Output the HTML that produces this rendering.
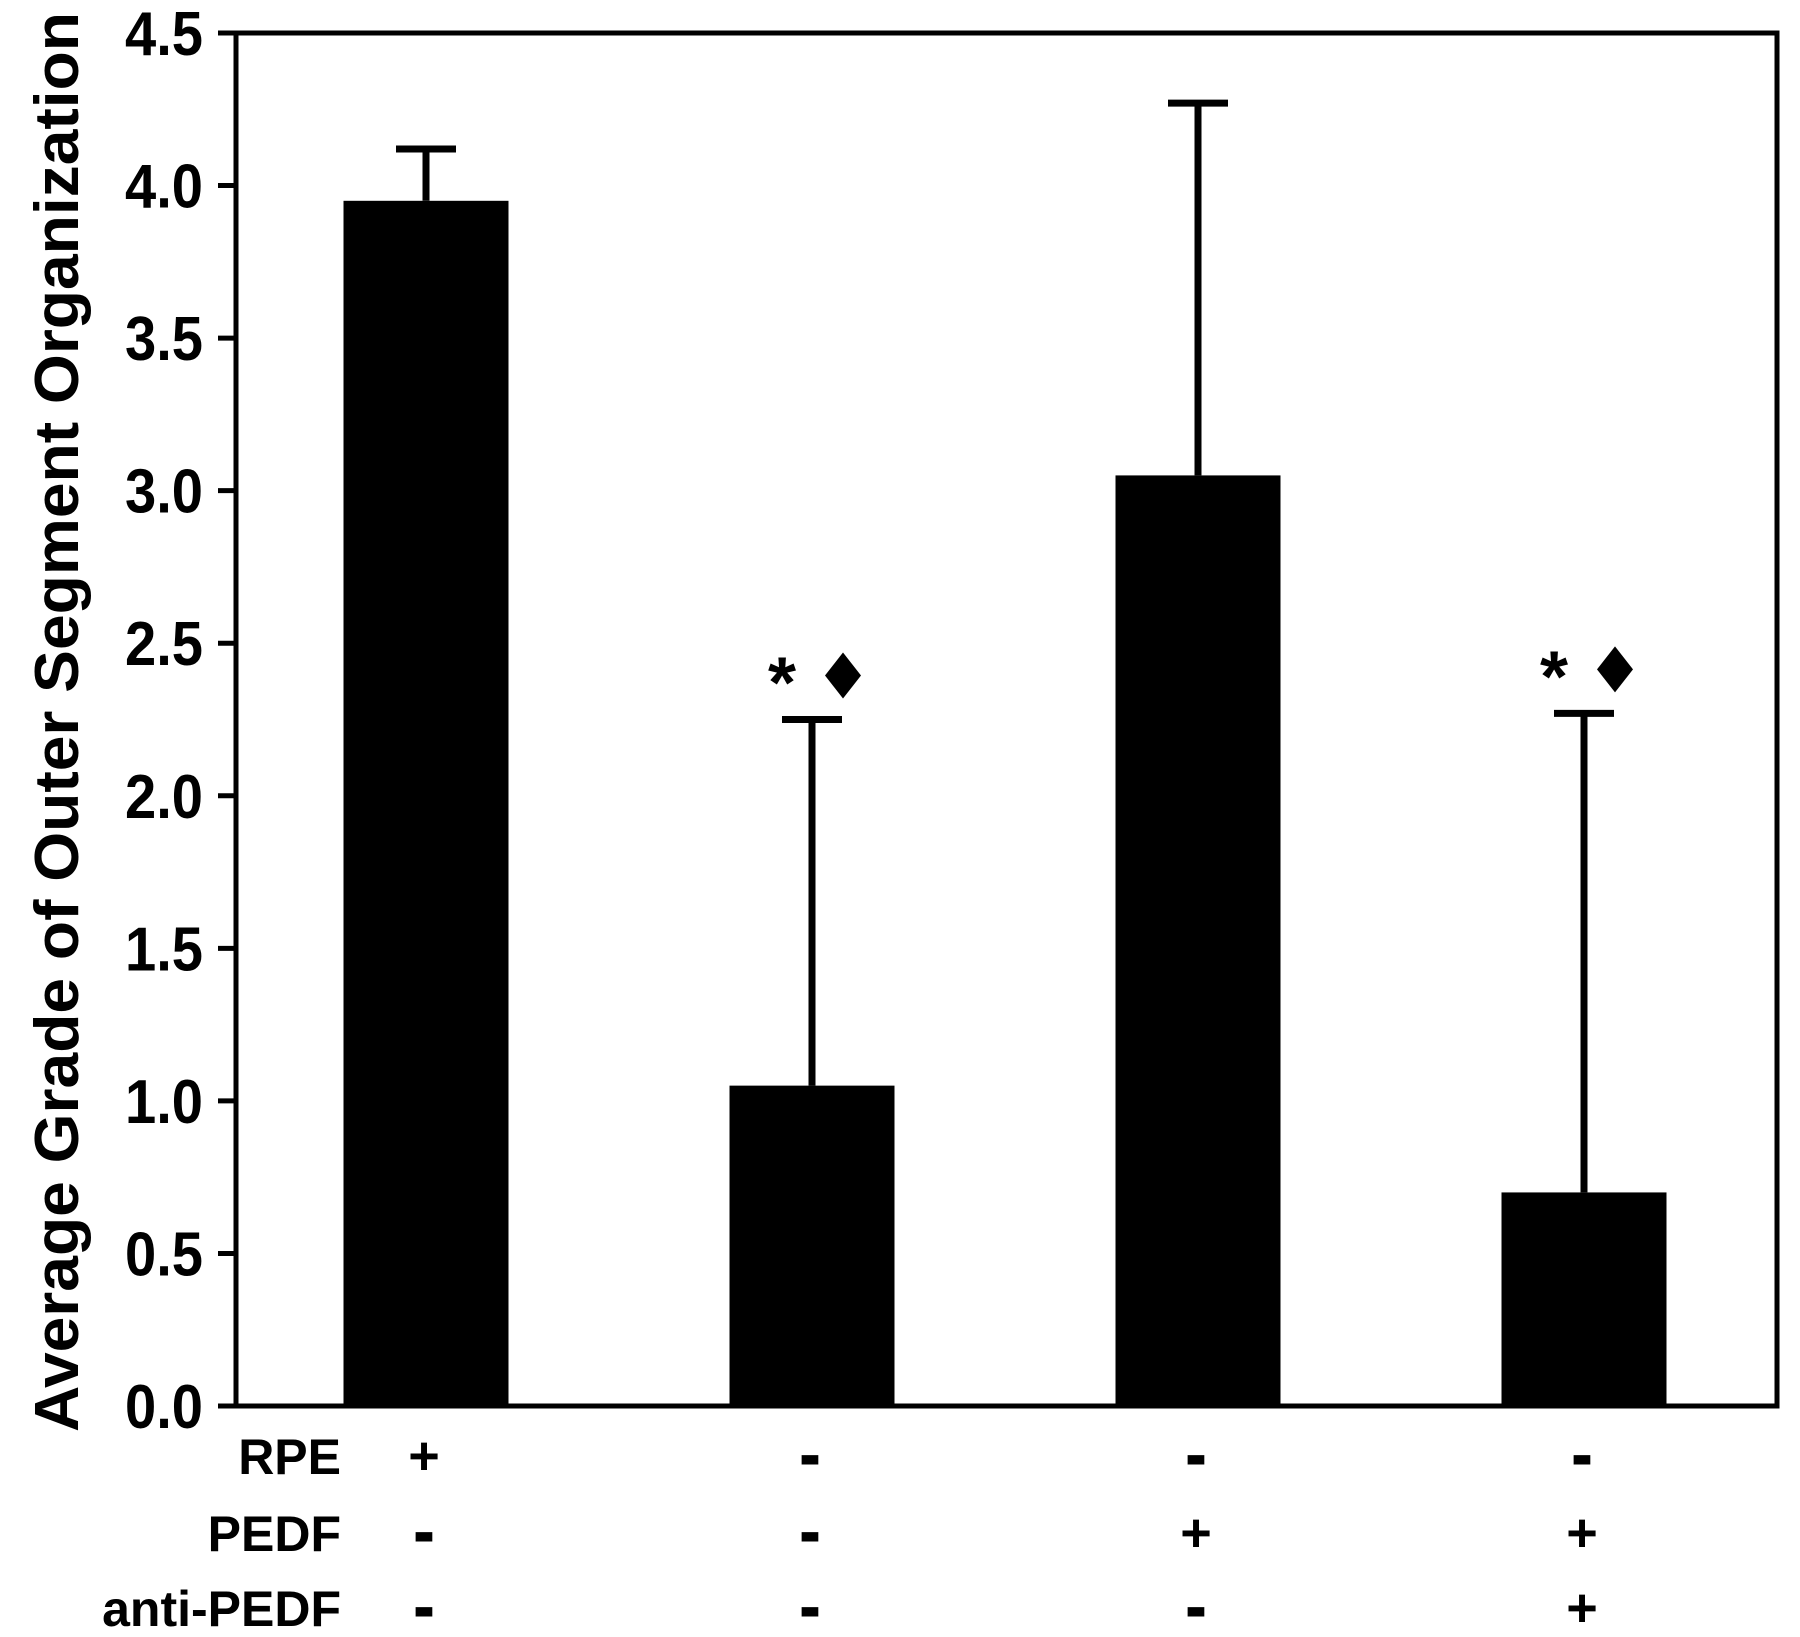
<!DOCTYPE html>
<html><head><meta charset="utf-8"><style>
html,body{margin:0;padding:0;background:#fff;}
svg{display:block;font-family:"Liberation Sans",Arial,sans-serif;font-weight:bold;}
</style></head><body>
<svg id="chart" width="1800" height="1637" viewBox="0 0 1800 1637" xmlns="http://www.w3.org/2000/svg">
<rect x="0" y="0" width="1800" height="1637" fill="#fff"/>
<rect x="236" y="33" width="1541" height="1373" fill="none" stroke="#000" stroke-width="5"/>
<text transform="translate(78,722) rotate(-90)" text-anchor="middle" font-size="62" textLength="1420" lengthAdjust="spacingAndGlyphs">Average Grade of Outer Segment Organization</text>
<g id="yaxis"></g>
<g id="bars"></g>
<g id="xlabels"></g>
</svg>
<script>
const categories = ["RPE only", "No RPE", "PEDF", "PEDF + anti-PEDF"];
const means = [3.95, 1.05, 3.05, 0.70];
const errUpper = [4.12, 2.25, 4.27, 2.27];
const significant = [false, true, false, true];
const yTicks = [0, 0.5, 1.0, 1.5, 2.0, 2.5, 3.0, 3.5, 4.0, 4.5];
const rowNames = ["RPE", "PEDF", "anti-PEDF"];
const rpeSigns = ["+", "-", "-", "-"];
const pedfSigns = ["-", "-", "+", "+"];
const antiSigns = ["-", "-", "-", "+"];

const NS = "http://www.w3.org/2000/svg";
const y0 = 1406, y1 = 33, yMax = 4.5;
function yScale(v){ return y0 - (v / yMax) * (y0 - y1); }
function xCenter(i){ return 426 + i * 386; }
const barW = 165;
function mk(tag, attrs, parent){ const e = document.createElementNS(NS, tag); for (const k in attrs) e.setAttribute(k, attrs[k]); parent.appendChild(e); return e; }

const ya = document.getElementById('yaxis');
yTicks.forEach(t => {
  const y = yScale(t);
  const l = mk('line', {x1: 218, x2: 236, y1: y, y2: y, stroke: '#000', 'stroke-width': 5}, ya);
  
  
  const tx = mk('text', {x: 203, y: y + 22, 'text-anchor': 'end', 'font-size': 62}, ya);
  
  
  tx.setAttribute('textLength', 78);
  tx.setAttribute('lengthAdjust', 'spacingAndGlyphs');
  tx.textContent = t.toFixed(1);
});

const bg = document.getElementById('bars');
categories.forEach((c, i) => {
  const cx = xCenter(i);
  const top = yScale(means[i]);
  const eTop = yScale(errUpper[i]);
  const wl = mk('line', {x1: cx, x2: cx, y1: eTop, y2: top, stroke: '#000', 'stroke-width': 7}, bg);
  
  
  const cap = mk('line', {x1: cx - 30, x2: cx + 30, y1: eTop, y2: eTop, stroke: '#000', 'stroke-width': 7}, bg);
  
  
  const r = mk('rect', {x: cx - barW / 2, y: top, width: barW, height: y0 - top, fill: '#000'}, bg);
  
  
  if (significant[i]) {
    const st = mk('text', {x: cx - 30, y: eTop - 12, 'text-anchor': 'middle', 'font-size': 72}, bg);
    
    
    st.textContent = '*';
    const dx = cx + 31, dy = eTop - 44;
    const d = mk('polygon', {points: (dx) + ',' + (dy - 23) + ' ' + (dx + 18) + ',' + dy + ' ' + dx + ',' + (dy + 23) + ' ' + (dx - 18) + ',' + dy, fill: '#000'}, bg);
    
    
  }
});

const xl = document.getElementById('xlabels');
const rowY = [1474, 1551, 1626];
const rows = [rpeSigns, pedfSigns, antiSigns];
rowNames.forEach((n, r) => {
  const t = mk('text', {x: 341, y: rowY[r], 'text-anchor': 'end', 'font-size': 50}, xl);
  
  
  t.textContent = n;
  rows[r].forEach((s, i) => {
    const st = mk('text', {x: xCenter(i) - 2, y: rowY[r], 'text-anchor': 'middle', 'font-size': 54, stroke: '#000', 'stroke-width': (s === '-' ? 3 : 0)}, xl);
    
    
    st.textContent = s;
  });
});
</script>
</body></html>
